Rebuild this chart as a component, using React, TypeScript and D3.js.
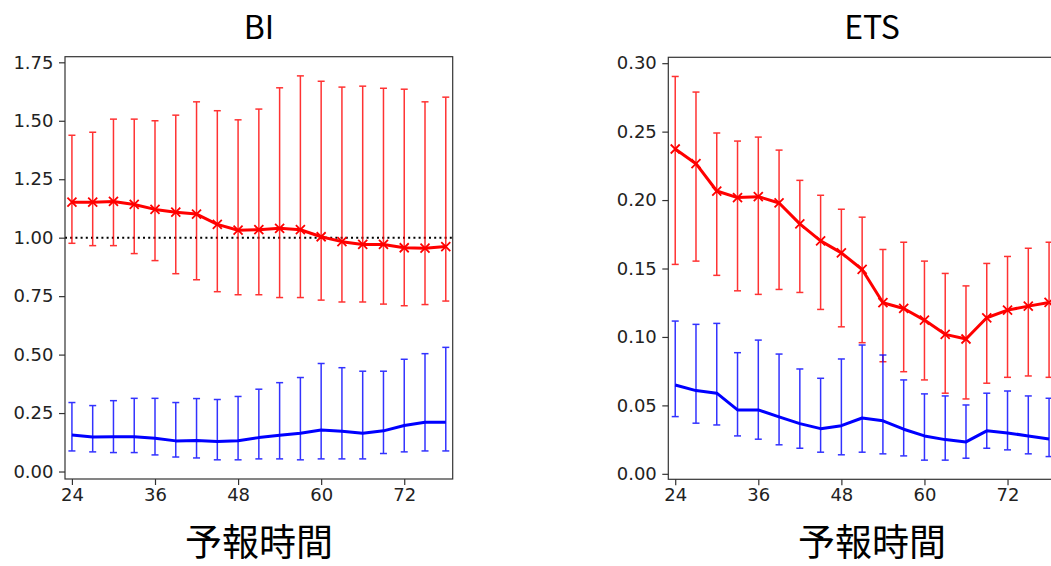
import React, { useRef, useEffect } from "react";
import * as d3 from "d3";

// forecast hours (x)
const hours = [24, 27, 30, 33, 36, 39, 42, 45, 48, 51, 54, 57, 60, 63, 66, 69, 72, 75, 78];
const xTicks = [24, 36, 48, 60, 72];

// BI panel
const biRedMean = [1.152, 1.152, 1.155, 1.142, 1.121, 1.109, 1.101, 1.057, 1.032, 1.034, 1.04, 1.034, 1.004, 0.983, 0.971, 0.971, 0.957, 0.955, 0.962];
const biRedHi = [1.438, 1.451, 1.507, 1.507, 1.5, 1.524, 1.581, 1.543, 1.504, 1.55, 1.641, 1.692, 1.669, 1.644, 1.648, 1.639, 1.635, 1.581, 1.601];
const biRedLo = [0.976, 0.966, 0.966, 0.932, 0.902, 0.846, 0.82, 0.769, 0.756, 0.756, 0.744, 0.744, 0.733, 0.725, 0.725, 0.716, 0.709, 0.714, 0.729];
const biBlueMean = [0.156, 0.148, 0.149, 0.149, 0.142, 0.131, 0.133, 0.128, 0.132, 0.145, 0.155, 0.164, 0.178, 0.172, 0.164, 0.174, 0.197, 0.211, 0.211];
const biBlueHi = [0.295, 0.282, 0.303, 0.313, 0.313, 0.295, 0.312, 0.308, 0.321, 0.352, 0.38, 0.402, 0.462, 0.444, 0.429, 0.429, 0.48, 0.504, 0.531];
const biBlueLo = [0.088, 0.084, 0.081, 0.081, 0.071, 0.062, 0.058, 0.05, 0.05, 0.054, 0.054, 0.05, 0.054, 0.054, 0.054, 0.077, 0.084, 0.088, 0.088];
const biYTicks = [0, 0.25, 0.5, 0.75, 1.0, 1.25, 1.5, 1.75];

// ETS panel
const etsRedMean = [0.2373, 0.2266, 0.2066, 0.2018, 0.2025, 0.1979, 0.1826, 0.1702, 0.1614, 0.1493, 0.125, 0.1208, 0.1123, 0.1019, 0.0985, 0.114, 0.1196, 0.1225, 0.1252];
const etsRedHi = [0.2903, 0.2789, 0.249, 0.2431, 0.246, 0.2365, 0.2144, 0.2035, 0.1933, 0.1875, 0.1639, 0.1692, 0.1554, 0.1464, 0.1373, 0.1537, 0.1588, 0.1648, 0.1692];
const etsRedLo = [0.153, 0.1554, 0.145, 0.1337, 0.1311, 0.1347, 0.1325, 0.1201, 0.1074, 0.0958, 0.0819, 0.0746, 0.0686, 0.0589, 0.0547, 0.0662, 0.0705, 0.0715, 0.0705];
const etsBlueMean = [0.0649, 0.0608, 0.0589, 0.0467, 0.0467, 0.0416, 0.0367, 0.033, 0.0352, 0.0408, 0.0387, 0.0326, 0.0277, 0.025, 0.0233, 0.0314, 0.0299, 0.0277, 0.0255];
const etsBlueHi = [0.1116, 0.1092, 0.1099, 0.0885, 0.0977, 0.0875, 0.0766, 0.0698, 0.0839, 0.0941, 0.0868, 0.0686, 0.0584, 0.0569, 0.0503, 0.0589, 0.0605, 0.0569, 0.0552];
const etsBlueLo = [0.0418, 0.037, 0.0357, 0.0277, 0.0253, 0.0212, 0.0187, 0.0158, 0.0139, 0.0158, 0.0146, 0.0131, 0.01, 0.01, 0.0114, 0.0187, 0.0175, 0.0146, 0.0126];
const etsYTicks = [0, 0.05, 0.1, 0.15, 0.2, 0.25, 0.3];

const titleFont = "'Noto Sans CJK JP', 'Noto Sans', sans-serif";
const tickFont = "'DejaVu Sans', sans-serif";

function drawPanel(svg, p) {
  const g = svg.append("g");
  const x = d3.scaleLinear().domain(p.xDomain).range([p.left, p.right]);
  const y = d3.scaleLinear().domain(p.yDomain).range([p.bottom, p.top]);

  // title + xlabel
  g.append("text")
    .attr("x", p.titleX)
    .attr("y", 39)
    .attr("text-anchor", "middle")
    .style("font-family", titleFont)
    .style("font-size", "32px")
    .text(p.title);
  g.append("text")
    .attr("x", p.titleX)
    .attr("y", 556)
    .attr("text-anchor", "middle")
    .style("font-family", titleFont)
    .style("font-size", "37px")
    .text("予報時間");

  // reference line
  if (p.refLine != null) {
    g.append("line")
      .attr("x1", p.left)
      .attr("x2", p.right)
      .attr("y1", y(p.refLine))
      .attr("y2", y(p.refLine))
      .attr("stroke", "#000")
      .attr("stroke-width", 2)
      .attr("stroke-dasharray", "2,3.2");
  }

  const series = [
    { mean: p.redMean, hi: p.redHi, lo: p.redLo, color: "#ff0000", marker: true },
    { mean: p.blueMean, hi: p.blueHi, lo: p.blueLo, color: "#0000ff", marker: false },
  ];

  series.forEach((s) => {
    const eb = g.append("g").attr("stroke", s.color).attr("stroke-width", 1.5).attr("opacity", 0.8);
    hours.forEach((h, i) => {
      const cx = x(h);
      eb.append("line").attr("x1", cx).attr("x2", cx).attr("y1", y(s.lo[i])).attr("y2", y(s.hi[i]));
      eb.append("line").attr("x1", cx - 3.5).attr("x2", cx + 3.5).attr("y1", y(s.lo[i])).attr("y2", y(s.lo[i]));
      eb.append("line").attr("x1", cx - 3.5).attr("x2", cx + 3.5).attr("y1", y(s.hi[i])).attr("y2", y(s.hi[i]));
    });

    const ln = d3
      .line()
      .x((d, i) => x(hours[i]))
      .y((d) => y(d));
    g.append("path")
      .attr("d", ln(s.mean))
      .attr("fill", "none")
      .attr("stroke", s.color)
      .attr("stroke-width", 3)
      .attr("stroke-linejoin", "round");

    if (s.marker) {
      g.selectAll(null)
        .data(s.mean)
        .join("path")
        .attr("d", (d, i) => {
          const cx = x(hours[i]);
          const cy = y(d);
          const r = 4.5;
          return `M${cx - r},${cy - r}L${cx + r},${cy + r}M${cx - r},${cy + r}L${cx + r},${cy - r}`;
        })
        .attr("stroke", s.color)
        .attr("stroke-width", 1.8);
    }
  });

  // axes
  const xAxis = d3.axisBottom(x).tickValues(xTicks).tickSize(6).tickPadding(3).tickFormat(d3.format("d"));
  const yAxis = d3.axisLeft(y).tickValues(p.yTicks).tickSize(6).tickPadding(5.5).tickFormat(d3.format(".2f"));
  [
    g.append("g").attr("transform", `translate(0,${p.bottom})`).call(xAxis),
    g.append("g").attr("transform", `translate(${p.left},0)`).call(yAxis),
  ].forEach((a) => {
    a.select(".domain").remove();
    a.selectAll("line").attr("stroke", "#333").attr("stroke-width", 1.2);
    a.selectAll("text").style("font-family", tickFont).style("font-size", "18px").attr("fill", "#222");
  });

  // frame
  g.append("rect")
    .attr("x", p.left)
    .attr("y", p.top)
    .attr("width", p.right - p.left)
    .attr("height", p.bottom - p.top)
    .attr("fill", "none")
    .attr("stroke", "#333")
    .attr("stroke-width", 1.2);
}

export default function App() {
  const svgRef = useRef(null);

  useEffect(() => {
    const svg = d3.select(svgRef.current);
    svg.selectAll("*").remove();

    drawPanel(svg, {
      title: "BI",
      titleX: 259,
      left: 65,
      right: 452.7,
      top: 56.7,
      bottom: 479,
      xDomain: [23, 79],
      yDomain: [-0.032, 1.774],
      yTicks: biYTicks,
      refLine: 1.0,
      redMean: biRedMean,
      redHi: biRedHi,
      redLo: biRedLo,
      blueMean: biBlueMean,
      blueHi: biBlueHi,
      blueLo: biBlueLo,
    });

    drawPanel(svg, {
      title: "ETS",
      titleX: 872,
      left: 668.3,
      right: 1076,
      top: 57.3,
      bottom: 479.3,
      xDomain: [23, 23 + (1076 - 668.3) / 6.923],
      yDomain: [-0.004, 0.3043],
      yTicks: etsYTicks,
      refLine: null,
      redMean: etsRedMean,
      redHi: etsRedHi,
      redLo: etsRedLo,
      blueMean: etsBlueMean,
      blueHi: etsBlueHi,
      blueLo: etsBlueLo,
    });
  }, []);

  return (
    <svg
      ref={svgRef}
      width={1051}
      height={566}
      style={{ position: "absolute", left: 0, top: 0, background: "#fff", overflow: "hidden" }}
    />
  );
}
